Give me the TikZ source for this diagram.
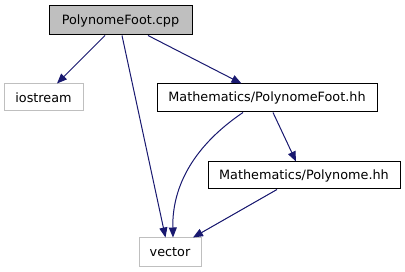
\documentclass[tikz,border=0pt]{standalone}
\usepackage{fontspec}
\setmainfont{DejaVu Sans}
\usetikzlibrary{arrows.meta,calc}
\definecolor{edgeblue}{HTML}{191970}
\definecolor{boxgray}{HTML}{BFBFBF}
\begin{document}
\begin{tikzpicture}[x=1pt,y=-1pt,
  filebox/.style={draw=black, line width=1pt, inner sep=0pt, font=\fontsize{12.8}{14}\selectfont},
  sysbox/.style={filebox, draw=boxgray},
  rootbox/.style={filebox, fill=boxgray},
  dep/.style={draw=edgeblue, line width=1pt, -{Triangle[length=10pt,width=8pt]}}]
\useasboundingbox (0,0) rectangle (405,272);
% files
\node[rootbox, minimum width=143pt, minimum height=29pt] (cpp) at (120.5,20.5) {PolynomeFoot.cpp};
\node[sysbox, minimum width=79pt, minimum height=27pt] (ios) at (43.5,97.5) {iostream};
\node[filebox, minimum width=220pt, minimum height=28pt] (pfhh) at (267,98) {Mathematics/PolynomeFoot.hh};
\node[filebox, minimum width=192pt, minimum height=27pt] (phh) at (304,175.5) {Mathematics/Polynome.hh};
\node[sysbox, minimum width=62pt, minimum height=29pt] (vec) at (170,252.5) {vector};
% include edges
\draw[dep] ($(cpp.south)+(-15.5,0)$) -- ($(ios.north)+(13.5,0)$);
\draw[dep] ($(cpp.south)+(1.5,0)$) -- ($(vec.north)+(-4.5,0)$);
\draw[dep] ($(cpp.south)+(27.5,0)$) -- ($(pfhh.north)+(-25.5,0)$);
\draw[dep] ($(pfhh.south)+(-24,0)$) .. controls (195,145) and (172,185) .. ($(vec.north)+(3,0)$);
\draw[dep] ($(pfhh.south)+(6,0)$) -- ($(phh.north)+(-8,0)$);
\draw[dep] ($(phh.south)+(-27,0)$) -- ($(vec.north)+(23,0)$);
\end{tikzpicture}
\end{document}
